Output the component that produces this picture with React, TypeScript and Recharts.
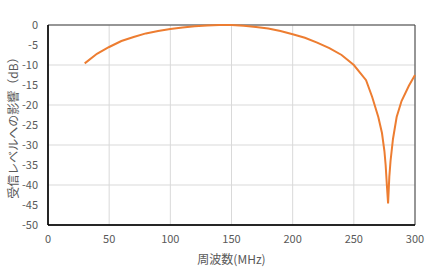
import React from 'react';
import { LineChart, Line, XAxis, YAxis, CartesianGrid, ReferenceArea } from 'recharts';

const freqMHz = [
  30, 40, 50, 60, 70, 80, 90, 100, 110, 120, 130, 140, 150, 160, 170, 180, 190,
  200, 210, 220, 230, 240, 250, 260, 265, 270, 273, 275, 276, 277, 278, 279, 280,
  282, 285, 289, 295, 300,
];
const levelDb = [
  -9.6, -7.2, -5.5, -4.0, -3.0, -2.1, -1.5, -1.0, -0.6, -0.3, -0.1, 0, 0, -0.2,
  -0.5, -0.9, -1.5, -2.3, -3.2, -4.4, -5.8, -7.5, -10, -13.8, -18, -23, -27,
  -31.5, -35, -40, -44.6, -38, -34, -28.5, -23, -19, -15.2, -12.5,
];
const xTicks = [0, 50, 100, 150, 200, 250, 300];
const yTicks = [0, -5, -10, -15, -20, -25, -30, -35, -40, -45, -50];

const data = freqMHz.map((f, i) => ({ f, db: levelDb[i] }));

const font = '"Noto Sans CJK JP", "Noto Sans", sans-serif';
const tickStyle = { fill: '#595959', fontSize: 11, fontFamily: font };

const App: React.FC = () => {
  return (
    <div style={{ position: 'absolute', left: 0, top: 0, width: 432, height: 271, background: '#fff' }}>
      <LineChart width={432} height={271} data={data} margin={{ top: 25, right: 17, bottom: 12, left: 0 }}>
        <CartesianGrid stroke="#d9d9d9" strokeWidth={1} />
        <XAxis
          type="number"
          dataKey="f"
          domain={[0, 300]}
          ticks={xTicks}
          height={34}
          tickLine={false}
          tickSize={0}
          tickMargin={10}
          axisLine={{ stroke: '#000', strokeWidth: 1.5 }}
          tick={tickStyle}
          label={{
            value: '周波数(MHz)',
            position: 'insideBottom',
            offset: -5,
            style: { fill: '#595959', fontSize: 12, fontFamily: font },
          }}
        />
        <YAxis
          type="number"
          domain={[-50, 0]}
          ticks={yTicks}
          width={48}
          tickLine={false}
          tickSize={0}
          tickMargin={10}
          axisLine={{ stroke: '#000', strokeWidth: 1.5 }}
          tick={tickStyle}
          label={{
            value: '受信レベルへの影響（dB）',
            angle: -90,
            position: 'insideLeft',
            offset: 14,
            style: { fill: '#595959', fontSize: 12, fontFamily: font, textAnchor: 'middle' },
          }}
        />
        <ReferenceArea x1={0} x2={300} y1={-50} y2={0} fill="none" stroke="#404040" strokeWidth={1} ifOverflow="visible" />
        <Line
          type="linear"
          dataKey="db"
          stroke="#ED7D31"
          strokeWidth={2}
          dot={false}
          isAnimationActive={false}
        />
      </LineChart>
    </div>
  );
};

export default App;
